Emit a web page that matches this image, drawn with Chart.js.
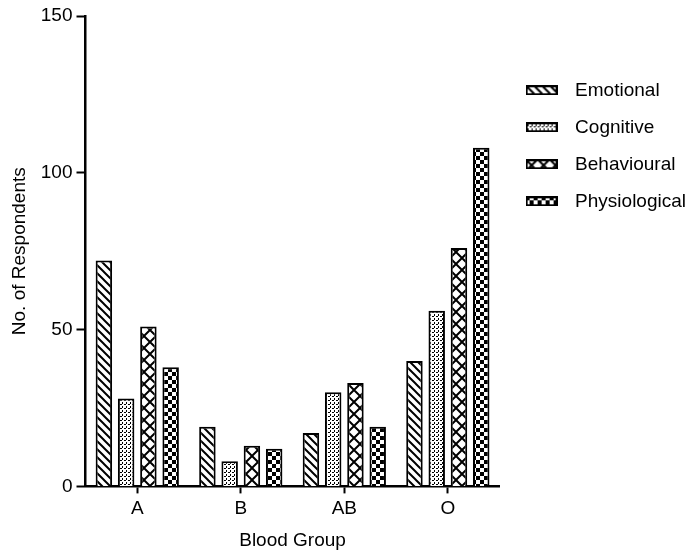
<!DOCTYPE html>
<html>
<head>
<meta charset="utf-8">
<script src="https://cdn.jsdelivr.net/npm/chart.js@4.4.1/dist/chart.umd.min.js"></script>
<style>
  html, body { margin: 0; padding: 0; background: #fff; }
</style>
</head>
<body>
<canvas id="myChart" width="696" height="554"></canvas>
<script>
var groups = ['A', 'B', 'AB', 'O'];
var seriesNames = ['Emotional', 'Cognitive', 'Behavioural', 'Physiological'];
var emotional = [72, 19, 17, 40];
var cognitive = [28, 8, 30, 56];
var behavioural = [51, 13, 33, 76];
var physiological = [38, 12, 19, 108];
var yTicks = [0, 50, 100, 150];

Chart.defaults.font.family = "'Liberation Sans', Arial, sans-serif";
Chart.defaults.color = '#000';

// black & white fill patterns, one per series
function makeTile(size, draw) {
    var c = document.createElement('canvas');
    c.width = size;
    c.height = size;
    var g = c.getContext('2d');
    g.fillStyle = '#fff';
    g.fillRect(0, 0, size, size);
    g.fillStyle = '#000';
    g.strokeStyle = '#000';
    draw(g, size);
    return c;
}

var tiles = [
    makeTile(8, function(g, s) {        // diagonal stripes
        g.lineWidth = 2;
        g.beginPath();
        g.moveTo(-4, 4); g.lineTo(4, 12);
        g.moveTo(0, 0); g.lineTo(8, 8);
        g.moveTo(4, -4); g.lineTo(12, 4);
        g.stroke();
    }),
    makeTile(4, function(g, s) {        // stipple dots
        g.fillRect(0, 0, 2, 1);
        g.fillRect(2, 2, 1, 2);
    }),
    makeTile(12, function(g, s) {       // cross hatch
        g.lineWidth = 2;
        g.beginPath();
        g.moveTo(0, 0); g.lineTo(12, 12);
        g.moveTo(12, 0); g.lineTo(0, 12);
        g.stroke();
    }),
    makeTile(8, function(g, s) {        // checkerboard
        g.fillRect(0, 0, 4, 4);
        g.fillRect(4, 4, 4, 4);
    })
];

var ctx = document.getElementById('myChart').getContext('2d');
var patterns = tiles.map(function(t) { return ctx.createPattern(t, 'repeat'); });

// little boxes for the legend
var legendBoxes = tiles.map(function(t) {
    var c = document.createElement('canvas');
    c.width = 32;
    c.height = 10;
    var g = c.getContext('2d');
    g.fillStyle = g.createPattern(t, 'repeat');
    g.fillRect(0, 0, 32, 10);
    g.strokeStyle = '#000';
    g.lineWidth = 2;
    g.strokeRect(1, 1, 30, 8);
    return c;
});

var values = [emotional, cognitive, behavioural, physiological];
var datasets = seriesNames.map(function(name, i) {
    return {
        label: name,
        data: values[i],
        backgroundColor: patterns[i],
        borderColor: '#000',
        borderWidth: 2
    };
});

new Chart(ctx, {
    type: 'bar',
    data: {
        labels: groups,
        datasets: datasets
    },
    options: {
        responsive: false,
        animation: false,
        layout: { padding: { left: 4, top: 16, right: 0, bottom: 0 } },
        datasets: {
            bar: { categoryPercentage: 0.86, barPercentage: 0.74 }
        },
        plugins: {
            tooltip: { enabled: false },
            legend: {
                position: 'right',
                align: 'start',
                maxWidth: 200,
                title: { display: true, text: '', font: { size: 19 }, padding: { top: 24, bottom: 0 } },
                labels: {
                    usePointStyle: true,
                    pointStyleWidth: 48,
                    padding: 18,
                    color: '#000',
                    font: { size: 19 },
                    generateLabels: function(chart) {
                        var items = Chart.defaults.plugins.legend.labels.generateLabels(chart);
                        items.forEach(function(item, i) { item.pointStyle = legendBoxes[i]; });
                        return items;
                    }
                }
            }
        },
        scales: {
            x: {
                grid: { drawOnChartArea: false, offset: false, tickLength: 7, tickWidth: 2, tickColor: '#000' },
                border: { display: true, color: '#000', width: 2.5 },
                ticks: { color: '#000', font: { size: 19 }, padding: 4 },
                title: { display: true, text: 'Blood Group', color: '#000', font: { size: 19 }, padding: { top: 5, bottom: 2 } }
            },
            y: {
                min: yTicks[0],
                max: yTicks[yTicks.length - 1],
                grid: { drawOnChartArea: false, tickLength: 9, tickWidth: 2, tickColor: '#000' },
                border: { display: true, color: '#000', width: 2.5 },
                ticks: { stepSize: yTicks[1] - yTicks[0], color: '#000', font: { size: 19 }, padding: 4 },
                title: { display: true, text: 'No. of Respondents', color: '#000', font: { size: 19 }, padding: { top: 4, bottom: 6 } }
            }
        }
    }
});
</script>
</body>
</html>
